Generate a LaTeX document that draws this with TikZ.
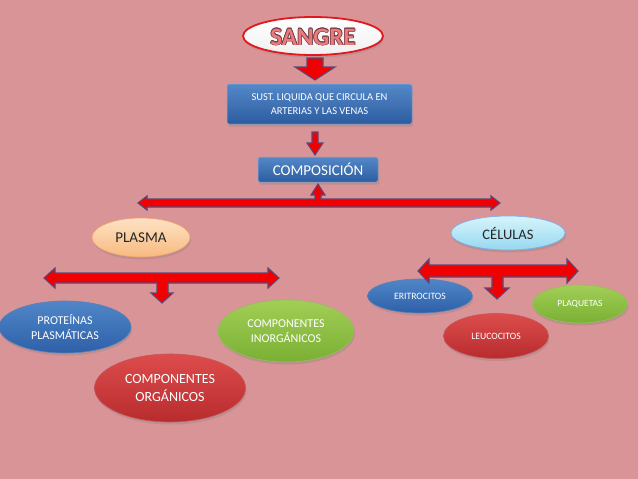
\documentclass[tikz,border=0pt]{standalone}
\usepackage{fontspec}
\setmainfont{Carlito}
\usetikzlibrary{shapes.geometric,shadows,calc}
\definecolor{bg}{RGB}{216,148,150}
\definecolor{arrred}{RGB}{240,0,0}
\definecolor{arredge}{RGB}{92,72,120}
\definecolor{boxtop}{RGB}{84,136,200}
\definecolor{boxbot}{RGB}{44,92,160}
\definecolor{blueA}{RGB}{80,134,200}
\definecolor{blueB}{RGB}{46,96,168}
\definecolor{greenA}{RGB}{162,206,86}
\definecolor{greenB}{RGB}{122,176,52}
\definecolor{redA}{RGB}{220,76,76}
\definecolor{redB}{RGB}{184,44,46}
\definecolor{peachA}{RGB}{253,226,196}
\definecolor{peachB}{RGB}{248,186,128}
\definecolor{cyanA}{RGB}{214,244,252}
\definecolor{cyanB}{RGB}{150,216,240}
\definecolor{sangretxt}{RGB}{234,122,124}
\definecolor{sangreedge}{RGB}{110,56,66}
\tikzset{
  shad/.style={drop shadow={opacity=0.3,shadow xshift=1pt,shadow yshift=-2.5pt}},
  ell/.style={ellipse,inner sep=0pt,shad,align=center,text=white},
  blueell/.style={ell,top color=blueA,bottom color=blueB,draw=blueB!80!white,line width=0.6pt},
  greenell/.style={ell,top color=greenA,bottom color=greenB,draw=greenB!80!white,line width=0.6pt},
  redell/.style={ell,top color=redA,bottom color=redB,draw=redB!80!white,line width=0.6pt},
  bluebox/.style={rectangle,rounded corners=2pt,inner sep=0pt,shad,align=center,text=white,
    top color=boxtop,bottom color=boxbot,draw=boxtop!70!white,line width=0.5pt},
  blockarrow/.style={fill=arrred,draw=arredge,line width=1.1pt,line join=miter}
}
\begin{document}
\begin{tikzpicture}[x=1pt,y=-1pt]
\fill[bg] (0,0) rectangle (638,479);
\useasboundingbox (0,0) rectangle (638,479);

% title
\node[ellipse,minimum width=140,minimum height=38,inner sep=0pt,top color=white,bottom color=white!88!gray,
  draw={rgb,255:red,226;green,24;blue,30},line width=1.8pt,shad] (sangre) at (313,36) {};
\foreach \dx/\dy in {-0.7/0,0.7/0,0/-0.7,0/0.7,-0.5/-0.5,0.5/0.5,-0.5/0.5,0.5/-0.5}
  \node[text=sangreedge,font=\fontsize{25}{28}\selectfont\bfseries] at ($(313,37)+(\dx,\dy)$) {SANGRE};
\node[text=sangretxt,font=\fontsize{25}{28}\selectfont\bfseries] (sangretext) at (313,37) {SANGRE};

% boxes
\node[bluebox,minimum width=185,minimum height=40,font=\fontsize{10.5}{14}\selectfont] (sust) at (319.5,104)
  {SUST. LIQUIDA QUE CIRCULA EN\\ARTERIAS Y LAS VENAS};
\node[bluebox,minimum width=120,minimum height=25,font=\fontsize{15}{17}\selectfont] (comp) at (318,169.5) {COMPOSICIÓN};

% level 2
\node[ell,minimum width=98,minimum height=39,top color=peachA,bottom color=peachB,draw=peachB!85!red,
  line width=0.6pt,text=black!85,font=\fontsize{15}{17}\selectfont] (plasma) at (141,237.5) {PLASMA};
\node[ell,minimum width=114,minimum height=34,top color=cyanA,bottom color=cyanB,draw=cyanB!80!blue,
  line width=0.6pt,text=black!85,font=\fontsize{14.5}{17}\selectfont] (celulas) at (508,233) {CÉLULAS};

% plasma children
\node[blueell,minimum width=132,minimum height=52,font=\fontsize{12}{15}\selectfont] (prot) at (65,327)
  {PROTEÍNAS\\PLASMÁTICAS};
\node[greenell,minimum width=136,minimum height=62,font=\fontsize{12}{15}\selectfont] (inorg) at (286,331)
  {COMPONENTES\\INORGÁNICOS};
\node[redell,minimum width=151,minimum height=68,font=\fontsize{14}{18}\selectfont] (org) at (170,388)
  {COMPONENTES\\ORGÁNICOS};

% celulas children
\node[blueell,minimum width=105,minimum height=34,font=\fontsize{9.7}{11}\selectfont] (eri) at (420,296) {ERITROCITOS};
\node[redell,minimum width=105,minimum height=45,font=\fontsize{9.7}{11}\selectfont] (leu) at (496,336) {LEUCOCITOS};
\node[greenell,minimum width=95,minimum height=38,font=\fontsize{9.5}{11}\selectfont] (pla) at (580,304) {PLAQUETAS};

% block arrows
\draw[blockarrow] (307,58) -- (323,58) -- (323,67) -- (335,67) -- (315,80) -- (295,67) -- (307,67) -- cycle;
\draw[blockarrow] (312,132) -- (318,132) -- (318,143) -- (323,143) -- (315,155) -- (307,143) -- (312,143) -- cycle;
\draw[blockarrow] (138,203) -- (147,196) -- (147,199) -- (315,199) -- (315,195) -- (311,195) -- (318,184)
  -- (325,195) -- (321,195) -- (321,199) -- (491,199) -- (491,196) -- (500,203) -- (491,210) -- (491,207)
  -- (147,207) -- (147,210) -- cycle;
\draw[blockarrow] (44,278) -- (55,268) -- (55,273) -- (268,273) -- (268,268) -- (279,278) -- (268,288)
  -- (268,283) -- (168,283) -- (168,293) -- (173,293) -- (162,303) -- (151,293) -- (157,293) -- (157,283)
  -- (55,283) -- (55,288) -- cycle;
\draw[blockarrow] (418,271) -- (429,259) -- (429,265) -- (567,265) -- (567,259) -- (578,271) -- (567,283)
  -- (567,277) -- (503,277) -- (503,288) -- (509,288) -- (497,299) -- (485,288) -- (492,288) -- (492,277)
  -- (429,277) -- (429,283) -- cycle;
\end{tikzpicture}
\end{document}
